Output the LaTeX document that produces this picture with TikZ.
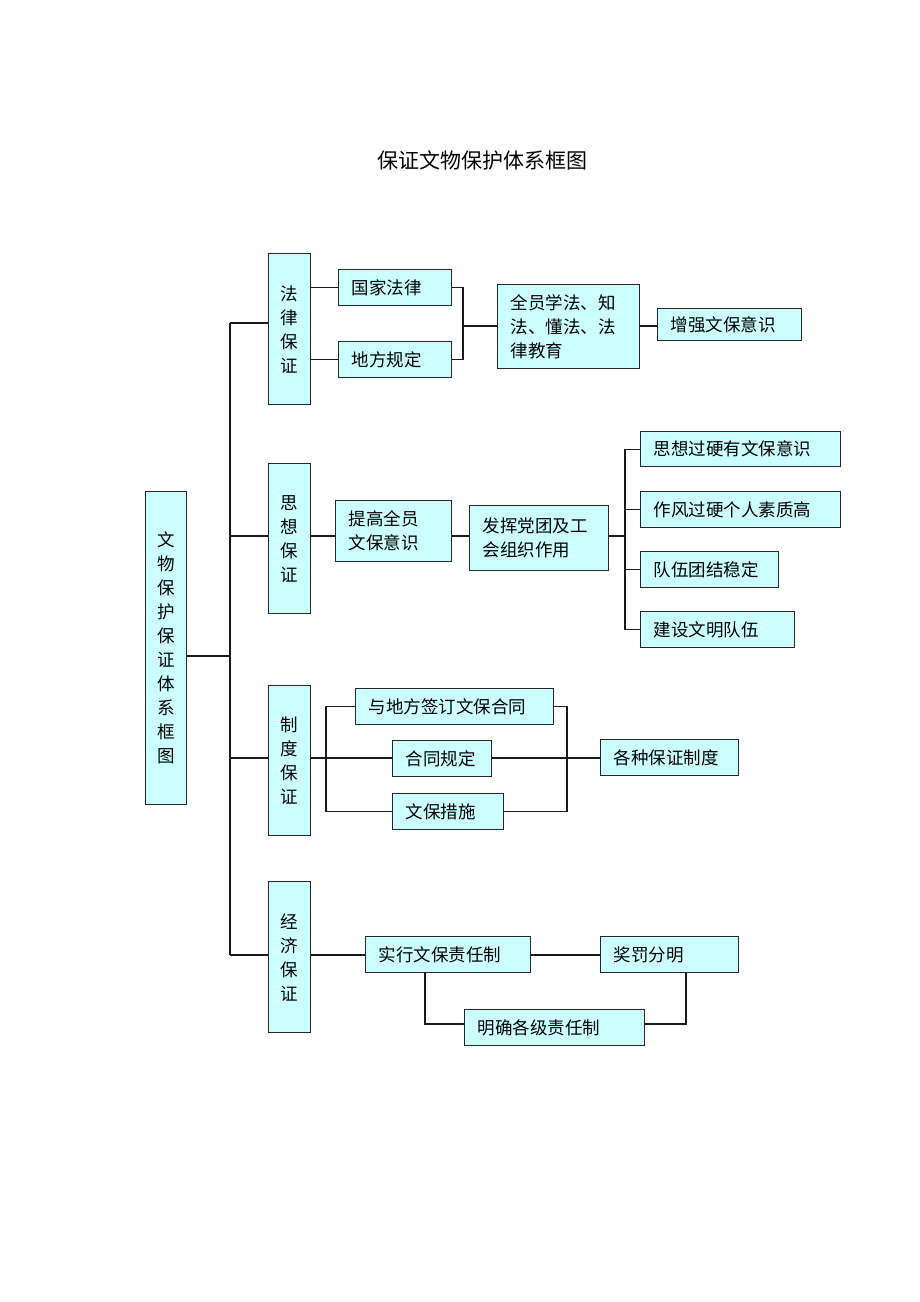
\documentclass[tikz,border=0pt]{standalone}
\usepackage{fontspec}
\setmainfont{Noto Sans CJK SC}
\definecolor{boxc}{HTML}{CCFFFF}
\begin{document}
\begin{tikzpicture}[x=1pt,y=-1pt,
  bx/.style={draw=black!85, line width=1.2pt, fill=boxc, anchor=north west,
    inner ysep=0pt, inner xsep=13pt, align=left, font=\fontsize{17.5}{24}\selectfont},
  vbx/.style={bx, inner xsep=0pt, align=center},
  ln/.style={line width=1.1pt, draw=black!90}]
\useasboundingbox[fill=white] (0,0) rectangle (920,1302);
\node[font=\fontsize{21}{21}\selectfont] (title) at (482,160) {保证文物保护体系框图};
% level boxes
\node[vbx, text width=41pt, minimum height=313pt] (main) at (145,491) {文\\物\\保\\护\\保\\证\\体\\系\\框\\图};
\node[vbx, text width=42pt, minimum height=151pt] (law) at (268,253) {法\\律\\保\\证};
\node[vbx, text width=42pt, minimum height=150pt] (thought) at (268,463) {思\\想\\保\\证};
\node[vbx, text width=42pt, minimum height=150pt] (sys) at (268,685) {制\\度\\保\\证};
\node[vbx, text width=42pt, minimum height=151pt] (econ) at (268,881) {经\\济\\保\\证};
% legal
\node[bx, text width=87pt, minimum height=36pt] (gj) at (338,269) {国家法律};
\node[bx, text width=87pt, minimum height=36pt] (df) at (338,341) {地方规定};
\node[bx, text width=116pt, minimum height=84pt] (qy) at (497,284) {全员学法、知\\法、懂法、法\\律教育};
\node[bx, text width=118pt, minimum height=32pt] (zq) at (657,308) {增强文保意识};
% thought
\node[bx, text width=90pt, minimum height=61pt] (tg) at (335,500) {提高全员\\文保意识};
\node[bx, text width=113pt, minimum height=65pt] (fh) at (469,505) {发挥党团及工\\会组织作用};
\node[bx, text width=174pt, minimum height=35pt] (t1) at (640,431) {思想过硬有文保意识};
\node[bx, text width=174pt, minimum height=36pt] (t2) at (640,491) {作风过硬个人素质高};
\node[bx, text width=112pt, minimum height=36pt] (t3) at (640,551) {队伍团结稳定};
\node[bx, text width=128pt, minimum height=36pt] (t4) at (640,611) {建设文明队伍};
% system
\node[bx, text width=172pt, minimum height=36pt] (yd) at (355,688) {与地方签订文保合同};
\node[bx, text width=73pt, minimum height=36pt] (ht) at (392,740) {合同规定};
\node[bx, text width=85pt, minimum height=36pt] (wb) at (392,793) {文保措施};
\node[bx, text width=112pt, minimum height=36pt] (gz) at (600,739) {各种保证制度};
% economy
\node[bx, text width=139pt, minimum height=36pt] (sx) at (365,936) {实行文保责任制};
\node[bx, text width=112pt, minimum height=36pt] (jf) at (600,936) {奖罚分明};
\node[bx, text width=154pt, minimum height=36pt] (mq) at (464,1009) {明确各级责任制};
% spine
\coordinate (sa) at (230,323);
\coordinate (sb) at (230,536);
\coordinate (sc) at (230,758);
\coordinate (sd) at (230,955);
\coordinate (sm) at (230,656);
\draw[ln] (sa) -- (sd);
\draw[ln] (main.east |- sm) -- (sm);
\draw[ln] (sa) -- (sa -| law.west);
\draw[ln] (sb) -- (sb -| thought.west);
\draw[ln] (sc) -- (sc -| sys.west);
\draw[ln] (sd) -- (sd -| econ.west);
% legal connectors
\coordinate (lb) at (463,326);
\draw[ln] (law.east |- gj.west) -- (gj.west);
\draw[ln] (law.east |- df.west) -- (df.west);
\draw[ln] (gj.east) -| (lb) |- (df.east);
\draw[ln] (lb) -- (lb -| qy.west);
\draw[ln] (qy.east |- lb) -- (zq.west |- lb);
% thought connectors
\coordinate (tv) at (625,536);
\draw[ln] (thought.east |- sb) -- (tg.west |- sb);
\draw[ln] (tg.east |- sb) -- (fh.west |- sb);
\draw[ln] (fh.east |- tv) -- (tv);
\draw[ln] (t1.west) -| (tv) |- (t4.west);
\draw[ln] (t2.west) -- (t2.west -| tv);
\draw[ln] (t3.west) -- (t3.west -| tv);
% system connectors
\coordinate (ll) at (326,758);
\coordinate (rr) at (567,758);
\draw[ln] (sys.east |- sc) -- (ht.west |- sc);
\draw[ln] (yd.west) -| (ll) |- (wb.west);
\draw[ln] (yd.east) -| (rr) |- (wb.east);
\draw[ln] (ht.east |- sc) -- (gz.west |- sc);
% economy connectors
\coordinate (da) at (425,1024);
\coordinate (db) at (686,1024);
\draw[ln] (econ.east |- sd) -- (sx.west |- sd);
\draw[ln] (sx.east |- sd) -- (jf.west |- sd);
\draw[ln] (sx.south -| da) |- (mq.west |- da);
\draw[ln] (jf.south -| db) |- (mq.east |- db);
\end{tikzpicture}
\end{document}
